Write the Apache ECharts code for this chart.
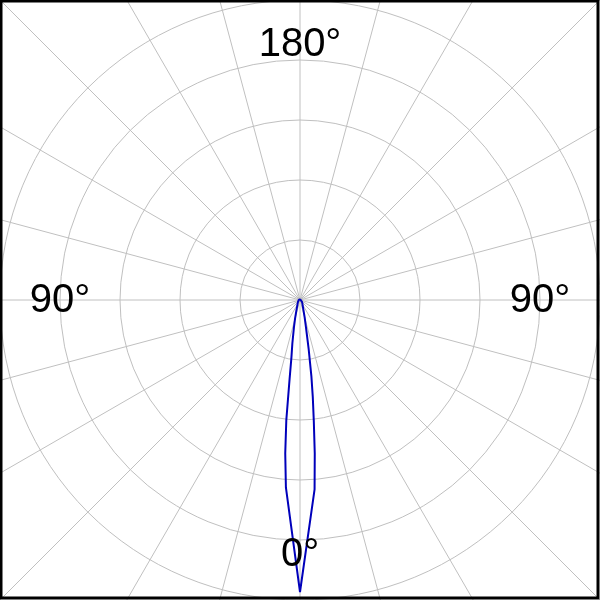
<!DOCTYPE html>
<html>
<head>
<meta charset="utf-8">
<script src="https://cdn.jsdelivr.net/npm/echarts@6/dist/echarts.min.js"></script>
<style>
html,body{margin:0;padding:0;background:#fff;}
#chart{width:600px;height:600px;}
</style>
</head>
<body>
<div id="chart"></div>
<script>
// Polar angles (degrees from the downward 0° direction) and intensities (radius units)
var leftAngles  = [0, 4.3, 5.5, 6.5, 7.5, 8.5, 10, 12.5, 15, 20, 30, 45, 60, 90, 135, 180];
var leftValues  = [292, 188, 154, 121, 80, 58, 44, 28, 19, 10, 5, 3, 2, 1.2, 1, 1];
var rightAngles = [0, 4.4, 5.5, 6.5, 7.5, 8.5, 10, 12.5, 15, 20, 30, 45, 60, 90, 135, 180];
var rightValues = [292, 190, 154, 122, 98, 77, 50, 27, 18, 9.5, 5, 3, 2, 1.2, 1, 1];
var ringValues  = [0, 60, 120, 180, 240, 300];
var angleLabels = ['180°', '90°', '90°', '0°'];

var data = [];
for (var i = rightAngles.length - 1; i >= 1; i--) {
  data.push([rightValues[i], 360 - rightAngles[i]]);
}
for (var j = 0; j < leftAngles.length; j++) {
  data.push([leftValues[j], leftAngles[j]]);
}

var gridColor = '#c0c0c0';
var labelFont = '40px "Liberation Sans", Arial';
var chart = echarts.init(document.getElementById('chart'));
var option = {
  backgroundColor: '#ffffff',
  animation: false,
  polar: [
    {center: ['50%', '50%'], radius: 300},
    {center: ['50%', '50%'], radius: 430}
  ],
  radiusAxis: [
    {polarIndex: 0, type: 'value', min: ringValues[0], max: ringValues[ringValues.length - 1], interval: 60,
     axisLine: {show: false}, axisTick: {show: false}, axisLabel: {show: false},
     splitLine: {show: true, lineStyle: {color: gridColor, width: 1}}},
    {polarIndex: 1, type: 'value', min: 0, max: 430,
     axisLine: {show: false}, axisTick: {show: false}, axisLabel: {show: false},
     splitLine: {show: false}}
  ],
  angleAxis: [
    {polarIndex: 0, type: 'value', min: 0, max: 360, interval: 15, startAngle: 270, clockwise: true,
     axisLine: {show: false}, axisTick: {show: false}, axisLabel: {show: false},
     splitLine: {show: false}},
    {polarIndex: 1, type: 'value', min: 0, max: 360, interval: 15, startAngle: 270, clockwise: true,
     axisLine: {show: false}, axisTick: {show: false}, axisLabel: {show: false},
     splitLine: {show: true, lineStyle: {color: gridColor, width: 1}}}
  ],
  series: [{
    type: 'line',
    coordinateSystem: 'polar',
    polarIndex: 0,
    data: data,
    symbol: 'none',
    smooth: false,
    lineStyle: {color: '#0000bb', width: 2},
    z: 5
  }],
  graphic: [
    {type: 'text', x: 300, y: 45, z: 10, style: {text: angleLabels[0], font: labelFont, fill: '#000', align: 'center', verticalAlign: 'middle'}},
    {type: 'text', x: 60, y: 301, z: 10, style: {text: angleLabels[1], font: labelFont, fill: '#000', align: 'center', verticalAlign: 'middle'}},
    {type: 'text', x: 540, y: 301, z: 10, style: {text: angleLabels[2], font: labelFont, fill: '#000', align: 'center', verticalAlign: 'middle'}},
    {type: 'text', x: 300, y: 555, z: 10, style: {text: angleLabels[3], font: labelFont, fill: '#000', align: 'center', verticalAlign: 'middle'}},
    {type: 'rect', z: 20, shape: {x: 1, y: 1, width: 597, height: 597}, style: {stroke: '#000', fill: null, lineWidth: 3}}
  ]
};
chart.setOption(option);
</script>
</body>
</html>
